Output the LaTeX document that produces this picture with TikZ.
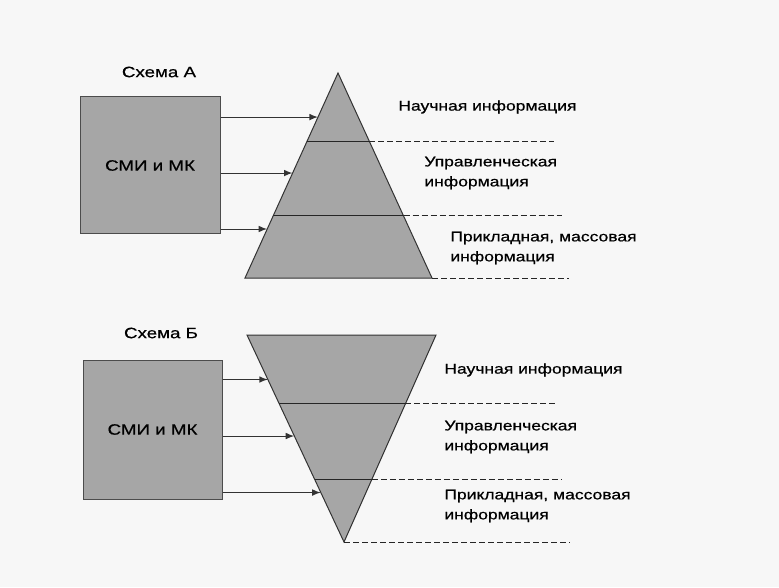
\documentclass[tikz,border=0pt]{standalone}
\usepackage{fontspec}
\setmainfont[FakeStretch=1.25,FakeBold=0.6]{Liberation Sans}
\usetikzlibrary{calc,arrows}

\begin{document}
\begin{tikzpicture}[
x=0.5pt, y=-0.5pt,
media/.style={
  draw=black!70,
  fill=black!35,
  line width=0.5pt,
  inner sep=0pt,
  font=\fontsize{7.5}{8.5}\selectfont
  },
layer/.style={
  draw=black!80,
  fill=black!35,
  line width=0.5pt
  },
caption/.style={
  font=\fontsize{7}{10}\selectfont,
  anchor=west,
  align=left,
  inner sep=0pt
  },
title/.style={
  font=\fontsize{7.5}{8.5}\selectfont,
  inner sep=0pt
  },
feed/.style={
  ->,
  line width=0.5pt,
  black!80
  },
level/.style={
  line width=0.5pt,
  black!85
  },
>=latex
]
\useasboundingbox[fill=black!3] (0,0) rectangle (779,587);

% Схема А
\node[title] (titA) at (159,72) {Схема А};
\node[media, minimum width=70pt, minimum height=68.5pt] (smiA) at (150,165.5) {СМИ и МК};
\coordinate (topA) at (338,73);
\coordinate (leftA) at (245,278);
\coordinate (rightA) at (432,278);
\draw[layer] (topA) -- (leftA) -- (rightA) -- cycle;

% Схема Б
\node[title] (titB) at (161,333) {Схема Б};
\node[media, minimum width=69.5pt, minimum height=69.5pt] (smiB) at (152.5,429.5) {СМИ и МК};
\coordinate (leftB) at (247,335);
\coordinate (rightB) at (436,335);
\coordinate (topB) at (344,542);
\draw[layer] (leftB) -- (rightB) -- (topB) -- cycle;

% стрелки
\foreach \fr [count=\i] in {0.215,0.488,0.761}
{
  \coordinate (inA\i) at ($(topA)!\fr!(leftA)$);
  \draw[feed] (inA\i -| smiA.east) -- (inA\i);
  \coordinate (inB\i) at ($(leftB)!\fr!(topB)$);
  \draw[feed] (inB\i -| smiB.east) -- (inB\i);
}

% уровни
\foreach \fr/\ea/\eb [count=\i] in {0.332/554/555,0.697/562/562}
{
  \coordinate (lA\i) at ($(topA)!\fr!(leftA)$);
  \coordinate (rA\i) at ($(topA)!\fr!(rightA)$);
  \draw[level] (lA\i) -- (rA\i);
  \draw[level, dashed, dash pattern=on 3pt off 1.5pt] (rA\i) -- (\ea,0 |- rA\i);
  \coordinate (lB\i) at ($(leftB)!\fr!(topB)$);
  \coordinate (rB\i) at ($(rightB)!\fr!(topB)$);
  \draw[level] (lB\i) -- (rB\i);
  \draw[level, dashed, dash pattern=on 3pt off 1.5pt] (rB\i) -- (\eb,0 |- rB\i);
}
\draw[level, dashed, dash pattern=on 3pt off 1.5pt] (rightA) -- (569,0 |- rightA);
\draw[level, dashed, dash pattern=on 3pt off 1.5pt] (topB) -- (570,0 |- topB);

% подписи
\node[caption] (sciA) at (398,107) {Научная информация};
\node[caption] (manA) at (424,173) {Управленческая\\информация};
\node[caption] (masA) at (450,248) {Прикладная, массовая\\информация};
\node[caption] (sciB) at (444,370) {Научная информация};
\node[caption] (manB) at (444,437) {Управленческая\\информация};
\node[caption] (masB) at (444,506) {Прикладная, массовая\\информация};
\end{tikzpicture}
\end{document}
